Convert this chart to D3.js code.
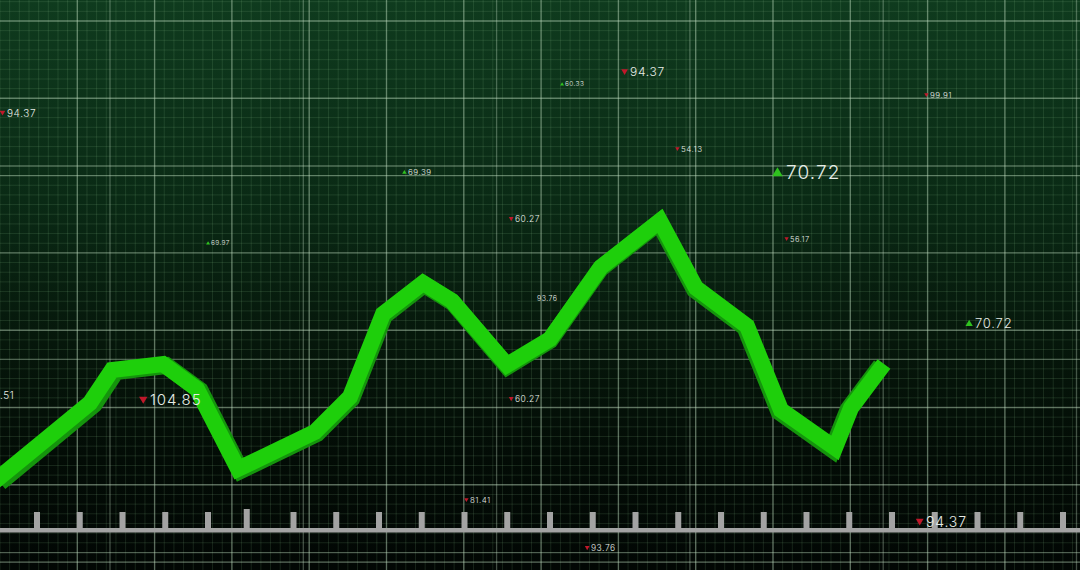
<!DOCTYPE html>
<html><head><meta charset="utf-8">
<script src="https://cdn.jsdelivr.net/npm/d3@7"></script>
<style>html,body{margin:0;padding:0;background:#000;overflow:hidden}svg{display:block}</style>
</head><body>
<svg id="chart" width="1080" height="570"></svg>
<script>
// ---- data ----
const pointX = [-5, 45, 90, 112, 163, 197, 238, 315, 350, 383, 423, 452, 507, 550, 601, 660, 696, 747, 781, 835, 851, 884];
const pointY = [89, 130, 167, 200, 206, 181, 101, 138, 173, 256, 287, 269, 205, 231, 303, 349, 282, 244, 160, 122, 162, 206];

const labelText = ["94.37","60.33","94.37","54.13","69.39","99.91","70.72","69.97","60.27","56.17","93.76","70.72",".51","104.85","60.27","81.41","94.37","93.76"];
const labelX    = [7, 565, 630, 681, 408, 930, 786, 211, 515, 790, 537, 975, 0, 150, 515, 470, 926, 591];
const labelY    = [457, 486, 498, 421, 398, 475, 398, 327, 351, 331, 272, 247, 175, 170, 171, 70, 48, 22];
const labelDir  = ["down","up","down","down","up","down","up","up","down","down","none","up","none","down","down","down","down","down"];
const labelSize = [10, 6.5, 12, 8, 8, 8, 19, 6.5, 8.5, 7.5, 7, 13, 10, 15, 8.5, 8, 14, 8.5];

const tickCount = 25;
const tallTick = 5;

// ---- drawing ----
const W = 1080, H = 570;
const svg = d3.select("#chart");
const x = d3.scaleLinear().domain([0, 1080]).range([0, W]);
const y = d3.scaleLinear().domain([0, 570]).range([H, 0]);

const defs = svg.append("defs");
const grad = defs.append("linearGradient").attr("id","bg").attr("x1",0).attr("y1",0).attr("x2",0).attr("y2",1);
grad.append("stop").attr("offset","0%").attr("stop-color","#0f3b1e");
grad.append("stop").attr("offset","35%").attr("stop-color","#0a2a15");
grad.append("stop").attr("offset","60%").attr("stop-color","#06170b");
grad.append("stop").attr("offset","80%").attr("stop-color","#030c06");
grad.append("stop").attr("offset","100%").attr("stop-color","#020704");
svg.append("rect").attr("width",W).attr("height",H).attr("fill","url(#bg)");

const g = svg.append("g");
// fine grid
const fine = 77.3/8;
g.selectAll(".fv").data(d3.range(0, W, fine)).join("line")
  .attr("x1",d=>d).attr("x2",d=>d).attr("y1",0).attr("y2",H)
  .attr("stroke","rgba(150,200,150,0.15)").attr("stroke-width",1);
g.selectAll(".fh").data(d3.range(21-77.3, H, fine)).join("line")
  .attr("y1",d=>d).attr("y2",d=>d).attr("x1",0).attr("x2",W)
  .attr("stroke","rgba(150,200,150,0.15)").attr("stroke-width",1);
// major grid A
g.selectAll(".mv").data(d3.range(1, 14).map(k=>77.3*k)).join("line")
  .attr("x1",d=>d).attr("x2",d=>d).attr("y1",0).attr("y2",H)
  .attr("stroke","rgba(200,225,200,0.40)").attr("stroke-width",1.4);
g.selectAll(".mh").data(d3.range(0, 8).map(k=>21+77.3*k)).join("line")
  .attr("y1",d=>d).attr("y2",d=>d).attr("x1",0).attr("x2",W)
  .attr("stroke","rgba(200,225,200,0.40)").attr("stroke-width",1.4);
// major grid B
g.selectAll(".nv").data(d3.range(0, 6).map(k=>110+193.3*k)).join("line")
  .attr("x1",d=>d).attr("x2",d=>d).attr("y1",0).attr("y2",H)
  .attr("stroke","rgba(200,225,200,0.33)").attr("stroke-width",1.3);
g.selectAll(".nh").data(d3.range(0, 3).map(k=>166+193.3*k)).join("line")
  .attr("y1",d=>d).attr("y2",d=>d).attr("x1",0).attr("x2",W)
  .attr("stroke","rgba(200,225,200,0.33)").attr("stroke-width",1.3);

// bottom axis bar with ticks
const tx = d3.scalePoint().domain(d3.range(tickCount)).range([37, 37+42.75*(tickCount-1)]);
svg.append("rect").attr("x",0).attr("y",528).attr("width",W).attr("height",4.5).attr("fill","#a3a3a3");
svg.selectAll(".tk").data(d3.range(tickCount)).join("rect")
  .attr("x",d=>tx(d)-3 - (d===tallTick?4:0))
  .attr("y",d=>d===tallTick?509:512)
  .attr("width",6).attr("height",d=>d===tallTick?20:17)
  .attr("fill","#a3a3a3");

// green line with dark extrusion
const pts = pointX.map((px,i)=>[x(px), y(pointY[i])]);
const lineGen = d3.line();
const shadow = pts.map(([px,py])=>[px + (540-px)*0.009, py + 1.5]);
svg.append("path").attr("d", lineGen(shadow)).attr("fill","none")
  .attr("stroke","#15940d").attr("stroke-width",17)
  .attr("stroke-linejoin","miter").attr("stroke-linecap","butt");
svg.append("path").attr("d", lineGen(pts)).attr("fill","none")
  .attr("stroke","#1ecf0b").attr("stroke-width",16)
  .attr("stroke-linejoin","miter").attr("stroke-linecap","butt");

// labels (drawn above the line)
const red = "#c0182a", grn = "#2fc21f";
const lab = svg.append("g");
labelText.forEach((t,i)=>{
  const size = labelSize[i];
  const cx = x(labelX[i]), cy = y(labelY[i]);
  lab.append("text").attr("x",cx).attr("y",cy + size*0.36)
    .attr("text-anchor","start")
    .attr("font-family","Inter, 'DejaVu Sans', sans-serif").attr("font-weight",300)
    .attr("font-size",size).attr("letter-spacing",size*0.06)
    .attr("fill","#e6ece6").text(t);
  const dir = labelDir[i];
  if (dir !== "none") {
    const s = Math.max(2, size*0.28), mx = cx - size*0.45;
    const p = dir==="up"
      ? [[mx-s,cy+s*0.8],[mx+s,cy+s*0.8],[mx,cy-s*0.9]]
      : [[mx-s,cy-s*0.8],[mx+s,cy-s*0.8],[mx,cy+s*0.9]];
    lab.append("path").attr("d","M"+p.map(q=>q.join(",")).join("L")+"Z")
      .attr("fill", dir==="up"?grn:red);
  }
});
</script>
</body></html>
